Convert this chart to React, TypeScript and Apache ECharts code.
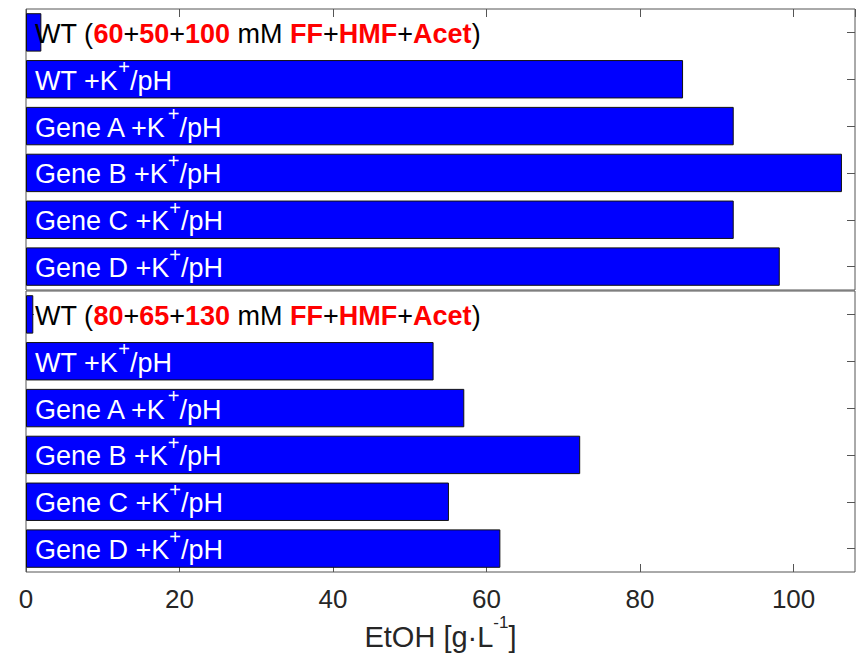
import React, { useEffect, useRef } from "react";
import * as echarts from "echarts";

const strains = ["Gene A", "Gene B", "Gene C", "Gene D"];
const topConc = ["60", "50", "100"];
const bottomConc = ["80", "65", "130"];
const inhibitors = ["FF", "HMF", "Acet"];
const topCategories = ["WT (60+50+100 mM FF+HMF+Acet)", "WT +K+/pH", ...strains.map((s) => s + " +K+/pH")];
const bottomCategories = ["WT (80+65+130 mM FF+HMF+Acet)", "WT +K+/pH", ...strains.map((s) => s + " +K+/pH")];
const topValues = [2.0, 85.6, 92.2, 106.3, 92.2, 98.2];
const bottomValues = [0.95, 53.1, 57.1, 72.2, 55.1, 61.8];
const xTicks = [0, 20, 40, 60, 80, 100];

const FONT = "'Liberation Sans', Arial, Helvetica, sans-serif";

function condLabel(c: string[]) {
  return (
    `{k|WT (}{r|${c[0]}}{k|+}{r|${c[1]}}{k|+}{r|${c[2]}}{k| mM }` +
    `{r|${inhibitors[0]}}{k|+}{r|${inhibitors[1]}}{k|+}{r|${inhibitors[2]}}{k|)}`
  );
}

function strainLabel(name: string) {
  const base = name.replace(" +K+/pH", "");
  return `{w|${base} +K}{s|+}{w|/pH}`;
}

const FS = 27;
const rich = {
  k: { color: "#000", fontSize: FS, fontFamily: FONT, lineHeight: 30, verticalAlign: "bottom" },
  r: { color: "#ff0000", fontSize: FS, fontWeight: "bold", fontFamily: FONT, lineHeight: 30, verticalAlign: "bottom" },
  w: { color: "#fff", fontSize: FS, fontFamily: FONT, lineHeight: 30, verticalAlign: "bottom" },
  s: { color: "#fff", fontSize: 20, fontFamily: FONT, lineHeight: 20, padding: [0, 0, 17, 0], verticalAlign: "bottom" },
};

function makeSeries(values: number[], cats: string[], conc: string[], xi: number, yi: number) {
  return {
    type: "bar",
    xAxisIndex: xi,
    yAxisIndex: yi,
    data: values,
    barWidth: "82%",
    itemStyle: { color: "#0000ff", borderColor: "#111", borderWidth: 1 },
    label: {
      show: true,
      position: "insideLeft",
      distance: 9,
      formatter: (p: any) => (p.dataIndex === 0 ? condLabel(conc) : strainLabel(cats[p.dataIndex])),
      rich,
    },
    z: 3,
  };
}

function yAx(grid: number, cats: string[], pos: "left" | "right") {
  return {
    type: "category",
    gridIndex: grid,
    data: cats,
    inverse: true,
    position: pos,
    axisLine: { show: false },
    axisLabel: { show: false },
    axisTick: { show: true, inside: true, alignWithLabel: true, length: 8, lineStyle: { color: "#555" } },
    splitLine: { show: false },
  };
}

export default function App() {
  const ref = useRef<HTMLDivElement>(null);
  useEffect(() => {
    if (!ref.current) return;
    const chart = echarts.init(ref.current, undefined, { renderer: "svg" });
    chart.setOption({
      animation: false,
      backgroundColor: "#fff",
      grid: [
        { left: 26, right: 1, top: 9, height: 281, show: true, borderColor: "#555", borderWidth: 1 },
        { left: 26, right: 1, top: 291, height: 281, show: true, borderColor: "#555", borderWidth: 1 },
      ],
      xAxis: [
        {
          type: "value",
          gridIndex: 0,
          min: 0,
          max: 108,
          interval: 20,
          position: "top",
          axisLine: { show: false },
          axisLabel: { show: false },
          axisTick: { show: true, inside: true, length: 8, lineStyle: { color: "#555" } },
          splitLine: { show: false },
        },
        {
          type: "value",
          gridIndex: 1,
          min: 0,
          max: 108,
          interval: 20,
          position: "bottom",
          axisLine: { show: false },
          axisLabel: {
            show: true,
            fontSize: 26,
            fontFamily: FONT,
            color: "#262626",
            margin: 14,
            showMaxLabel: false,
            formatter: (v: number) => (xTicks.indexOf(v) >= 0 ? String(v) : ""),
          },
          axisTick: { show: true, inside: true, length: 8, lineStyle: { color: "#555" } },
          splitLine: { show: false },
          name: "{a|EtOH [g·L}{s|-1}{a|]}",
          nameLocation: "middle",
          nameGap: 47,
          nameTextStyle: {
            rich: {
              a: { fontSize: 29, fontFamily: FONT, color: "#262626", lineHeight: 32, verticalAlign: "bottom" },
              s: { fontSize: 17, fontFamily: FONT, color: "#262626", lineHeight: 17, padding: [0, 0, 20, 0], verticalAlign: "bottom" },
            },
          },
        },
      ],
      yAxis: [
        yAx(0, topCategories, "left"),
        yAx(0, topCategories, "right"),
        yAx(1, bottomCategories, "left"),
        yAx(1, bottomCategories, "right"),
      ],
      series: [
        makeSeries(topValues, topCategories, topConc, 0, 0),
        makeSeries(bottomValues, bottomCategories, bottomConc, 1, 2),
      ],
    });
    return () => chart.dispose();
  }, []);
  return <div ref={ref} style={{ position: "fixed", left: 0, top: 0, width: 856, height: 653 }} />;
}
